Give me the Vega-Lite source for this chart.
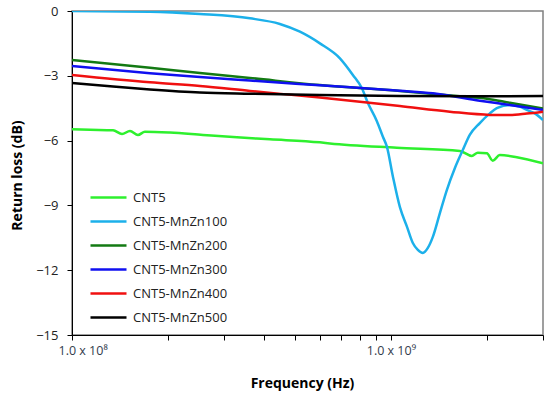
{
  "$schema": "https://vega.github.io/schema/vega-lite/v6.json",
  "width": 471,
  "height": 324,
  "autosize": {"type": "none"},
  "padding": {"left": 72, "top": 11, "right": 7, "bottom": 62},
  "background": "white",
  "config": {
    "view": {"stroke": "#808080", "strokeWidth": 1.5},
    "font": "Open Sans"
  },
  "data": {
    "values": [
      {"s": "CNT5", "f": 1.0e8, "v": -5.48},
      {"s": "CNT5", "f": 1.139e8, "v": -5.5},
      {"s": "CNT5", "f": 1.345e8, "v": -5.52},
      {"s": "CNT5", "f": 1.435e8, "v": -5.7},
      {"s": "CNT5", "f": 1.52e8, "v": -5.55},
      {"s": "CNT5", "f": 1.61e8, "v": -5.74},
      {"s": "CNT5", "f": 1.693e8, "v": -5.59},
      {"s": "CNT5", "f": 2.029e8, "v": -5.63},
      {"s": "CNT5", "f": 2.574e8, "v": -5.74},
      {"s": "CNT5", "f": 3.29e8, "v": -5.85},
      {"s": "CNT5", "f": 4.175e8, "v": -5.94},
      {"s": "CNT5", "f": 5.99e8, "v": -6.08},
      {"s": "CNT5", "f": 6.437e8, "v": -6.13},
      {"s": "CNT5", "f": 1.044e9, "v": -6.33},
      {"s": "CNT5", "f": 1.646e9, "v": -6.48},
      {"s": "CNT5", "f": 1.794e9, "v": -6.71},
      {"s": "CNT5", "f": 1.874e9, "v": -6.56},
      {"s": "CNT5", "f": 2.0e9, "v": -6.59},
      {"s": "CNT5", "f": 2.088e9, "v": -6.93},
      {"s": "CNT5", "f": 2.196e9, "v": -6.67},
      {"s": "CNT5", "f": 2.483e9, "v": -6.77},
      {"s": "CNT5", "f": 3.0e9, "v": -7.05},

      {"s": "CNT5-MnZn100", "f": 1.0e8, "v": 0.0},
      {"s": "CNT5-MnZn100", "f": 1.756e8, "v": -0.03},
      {"s": "CNT5-MnZn100", "f": 2.519e8, "v": -0.14},
      {"s": "CNT5-MnZn100", "f": 3.614e8, "v": -0.34},
      {"s": "CNT5-MnZn100", "f": 4.487e8, "v": -0.6},
      {"s": "CNT5-MnZn100", "f": 5.185e8, "v": -0.96},
      {"s": "CNT5-MnZn100", "f": 5.99e8, "v": -1.5},
      {"s": "CNT5-MnZn100", "f": 6.922e8, "v": -2.19},
      {"s": "CNT5-MnZn100", "f": 7.6e8, "v": -2.96},
      {"s": "CNT5-MnZn100", "f": 8.114e8, "v": -3.58},
      {"s": "CNT5-MnZn100", "f": 8.472e8, "v": -4.26},
      {"s": "CNT5-MnZn100", "f": 9.04e8, "v": -5.1},
      {"s": "CNT5-MnZn100", "f": 9.441e8, "v": -5.82},
      {"s": "CNT5-MnZn100", "f": 9.716e8, "v": -6.28},
      {"s": "CNT5-MnZn100", "f": 1.015e9, "v": -7.67},
      {"s": "CNT5-MnZn100", "f": 1.067e9, "v": -9.07},
      {"s": "CNT5-MnZn100", "f": 1.123e9, "v": -9.98},
      {"s": "CNT5-MnZn100", "f": 1.172e9, "v": -10.74},
      {"s": "CNT5-MnZn100", "f": 1.215e9, "v": -11.06},
      {"s": "CNT5-MnZn100", "f": 1.26e9, "v": -11.2},
      {"s": "CNT5-MnZn100", "f": 1.306e9, "v": -10.97},
      {"s": "CNT5-MnZn100", "f": 1.354e9, "v": -10.46},
      {"s": "CNT5-MnZn100", "f": 1.424e9, "v": -9.37},
      {"s": "CNT5-MnZn100", "f": 1.498e9, "v": -8.29},
      {"s": "CNT5-MnZn100", "f": 1.587e9, "v": -7.28},
      {"s": "CNT5-MnZn100", "f": 1.681e9, "v": -6.44},
      {"s": "CNT5-MnZn100", "f": 1.768e9, "v": -5.74},
      {"s": "CNT5-MnZn100", "f": 1.901e9, "v": -5.19},
      {"s": "CNT5-MnZn100", "f": 2.044e9, "v": -4.74},
      {"s": "CNT5-MnZn100", "f": 2.149e9, "v": -4.5},
      {"s": "CNT5-MnZn100", "f": 2.36e9, "v": -4.35},
      {"s": "CNT5-MnZn100", "f": 2.537e9, "v": -4.43},
      {"s": "CNT5-MnZn100", "f": 2.669e9, "v": -4.58},
      {"s": "CNT5-MnZn100", "f": 2.828e9, "v": -4.74},
      {"s": "CNT5-MnZn100", "f": 3.0e9, "v": -5.05},

      {"s": "CNT5-MnZn200", "f": 1.0e8, "v": -2.27},
      {"s": "CNT5-MnZn200", "f": 1.756e8, "v": -2.63},
      {"s": "CNT5-MnZn200", "f": 2.519e8, "v": -2.87},
      {"s": "CNT5-MnZn200", "f": 3.614e8, "v": -3.1},
      {"s": "CNT5-MnZn200", "f": 5.99e8, "v": -3.43},
      {"s": "CNT5-MnZn200", "f": 1.067e9, "v": -3.7},
      {"s": "CNT5-MnZn200", "f": 1.646e9, "v": -3.95},
      {"s": "CNT5-MnZn200", "f": 2.0e9, "v": -4.06},
      {"s": "CNT5-MnZn200", "f": 2.36e9, "v": -4.25},
      {"s": "CNT5-MnZn200", "f": 3.0e9, "v": -4.52},

      {"s": "CNT5-MnZn300", "f": 1.0e8, "v": -2.55},
      {"s": "CNT5-MnZn300", "f": 1.756e8, "v": -2.88},
      {"s": "CNT5-MnZn300", "f": 2.519e8, "v": -3.06},
      {"s": "CNT5-MnZn300", "f": 3.614e8, "v": -3.22},
      {"s": "CNT5-MnZn300", "f": 5.99e8, "v": -3.44},
      {"s": "CNT5-MnZn300", "f": 1.067e9, "v": -3.69},
      {"s": "CNT5-MnZn300", "f": 1.354e9, "v": -3.81},
      {"s": "CNT5-MnZn300", "f": 1.901e9, "v": -4.15},
      {"s": "CNT5-MnZn300", "f": 2.36e9, "v": -4.35},
      {"s": "CNT5-MnZn300", "f": 3.0e9, "v": -4.58},

      {"s": "CNT5-MnZn400", "f": 1.0e8, "v": -2.96},
      {"s": "CNT5-MnZn400", "f": 1.756e8, "v": -3.3},
      {"s": "CNT5-MnZn400", "f": 2.519e8, "v": -3.47},
      {"s": "CNT5-MnZn400", "f": 3.614e8, "v": -3.7},
      {"s": "CNT5-MnZn400", "f": 5.99e8, "v": -4.01},
      {"s": "CNT5-MnZn400", "f": 1.067e9, "v": -4.4},
      {"s": "CNT5-MnZn400", "f": 1.531e9, "v": -4.66},
      {"s": "CNT5-MnZn400", "f": 2.044e9, "v": -4.81},
      {"s": "CNT5-MnZn400", "f": 2.36e9, "v": -4.82},
      {"s": "CNT5-MnZn400", "f": 2.669e9, "v": -4.75},
      {"s": "CNT5-MnZn400", "f": 3.0e9, "v": -4.66},

      {"s": "CNT5-MnZn500", "f": 1.0e8, "v": -3.33},
      {"s": "CNT5-MnZn500", "f": 1.345e8, "v": -3.5},
      {"s": "CNT5-MnZn500", "f": 1.756e8, "v": -3.63},
      {"s": "CNT5-MnZn500", "f": 2.519e8, "v": -3.77},
      {"s": "CNT5-MnZn500", "f": 3.614e8, "v": -3.83},
      {"s": "CNT5-MnZn500", "f": 5.99e8, "v": -3.89},
      {"s": "CNT5-MnZn500", "f": 1.067e9, "v": -3.94},
      {"s": "CNT5-MnZn500", "f": 1.901e9, "v": -3.95},
      {"s": "CNT5-MnZn500", "f": 3.0e9, "v": -3.94}
    ]
  },
  "mark": {"type": "line", "strokeWidth": 2.5, "interpolate": "monotone", "clip": true},
  "encoding": {
    "x": {
      "field": "f",
      "type": "quantitative",
      "scale": {"type": "log", "domain": [100000000, 3000000000], "nice": false},
      "axis": {
        "title": "Frequency (Hz)",
        "titleFont": "Open Sans",
        "titleFontSize": 14,
        "titleFontWeight": "bold",
        "titleColor": "#000000",
        "titleX": 230,
        "titleY": 52,
        "titleBaseline": "alphabetic",
        "values": [100000000, 200000000, 300000000, 400000000, 500000000, 600000000, 700000000, 800000000, 900000000, 1000000000, 2000000000, 3000000000],
        "labelExpr": "datum.value == 100000000 ? '1.0 x 10⁸' : (datum.value == 1000000000 ? '1.0 x 10⁹' : '')",
        "labelOverlap": false,
        "labelFlush": true,
        "labelFlushOffset": 14,
        "labelFont": "Open Sans",
        "labelFontSize": 12.5,
        "labelColor": "#333d4d",
        "labelPadding": 4,
        "grid": false,
        "domainColor": "#000000",
        "domainWidth": 1,
        "tickColor": "#000000",
        "tickSize": 5
      }
    },
    "y": {
      "field": "v",
      "type": "quantitative",
      "scale": {"domain": [-15, 0], "nice": false, "zero": false},
      "axis": {
        "title": "Return loss (dB)",
        "titleFont": "Open Sans",
        "titleFontSize": 14,
        "titleFontWeight": "bold",
        "titleColor": "#000000",
        "titleX": -55,
        "titleY": 164,
        "titleBaseline": "middle",
        "values": [-15, -12, -9, -6, -3, 0],
        "labelFont": "Open Sans",
        "labelFontSize": 13,
        "labelColor": "#222222",
        "labelPadding": 9,
        "grid": false,
        "domainColor": "#000000",
        "domainWidth": 1,
        "tickColor": "#000000",
        "tickSize": 5
      }
    },
    "color": {
      "field": "s",
      "type": "nominal",
      "scale": {
        "domain": ["CNT5", "CNT5-MnZn100", "CNT5-MnZn200", "CNT5-MnZn300", "CNT5-MnZn400", "CNT5-MnZn500"],
        "range": ["#2ef02e", "#1cb0ea", "#137a13", "#1010f0", "#f01010", "#000000"]
      },
      "legend": {
        "title": null,
        "orient": "none",
        "legendX": 26,
        "legendY": 176,
        "symbolType": "M-2,0H2",
        "symbolSize": 324,
        "symbolStrokeWidth": 2.5,
        "labelFontSize": 13,
        "labelFont": "Open Sans",
        "labelColor": "#222222",
        "labelOffset": 14,
        "rowPadding": 6
      }
    }
  }
}
